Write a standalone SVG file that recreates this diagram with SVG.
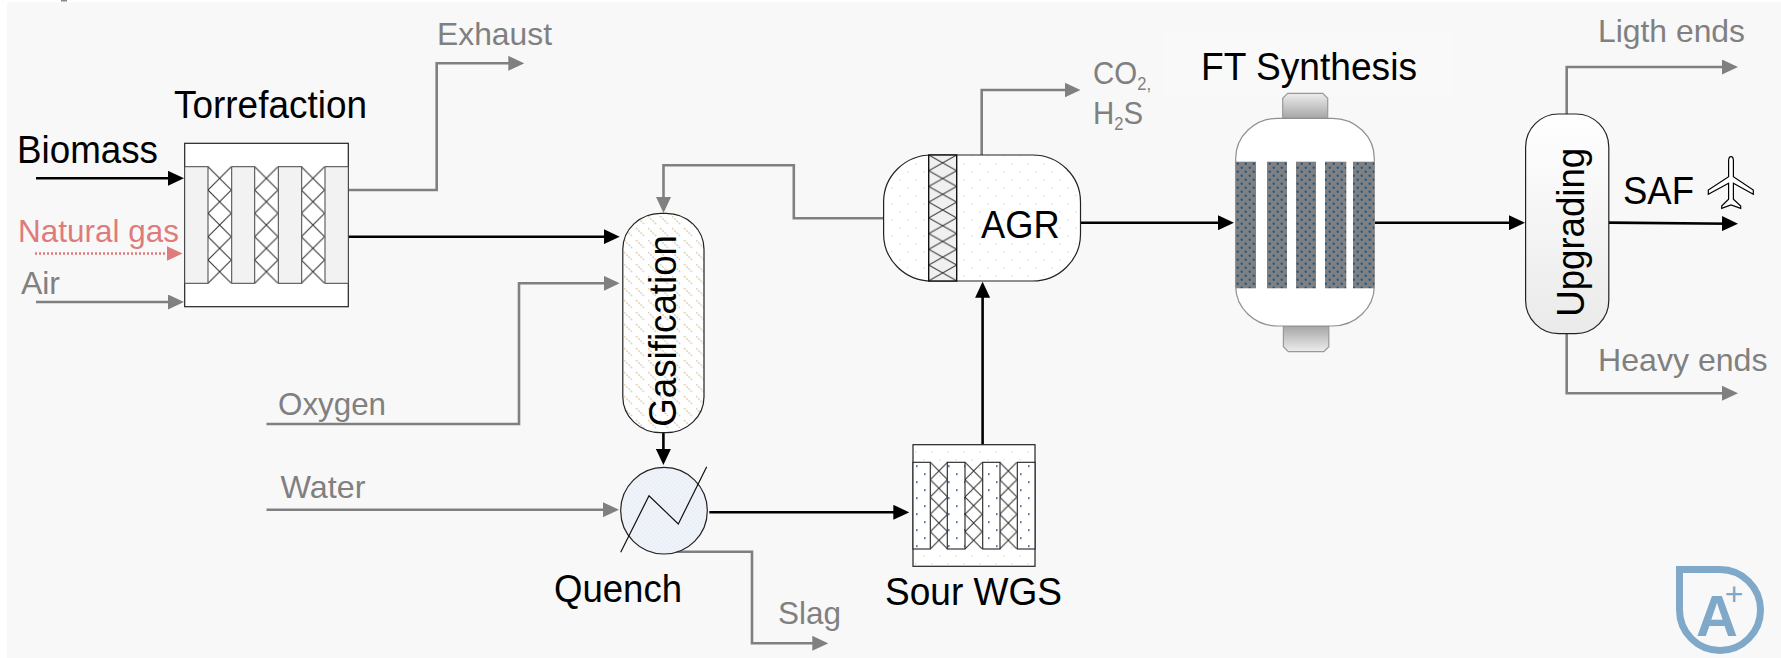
<svg xmlns="http://www.w3.org/2000/svg" width="1781" height="658" viewBox="0 0 1781 658">
<style>
text{font-family:"Liberation Sans",Arial,sans-serif}
.blk{fill:#000;font-size:38px}
.gry{fill:#808080;font-size:32px}
.pnk{fill:#E07B7B;font-size:32px}
.box{stroke:#222;stroke-width:1.2}
.k{fill:none;stroke:#000;stroke-width:2.6}
.g{fill:none;stroke:#808080;stroke-width:2.6}
.mk{marker-end:url(#ak)}
.mg{marker-end:url(#ag)}
.col{fill:#F2F2F2;stroke:#444;stroke-width:1}
.bar{fill:url(#ftdots)}
</style>
<defs>
<marker id="ak" markerUnits="userSpaceOnUse" markerWidth="16" markerHeight="15" refX="9" refY="7.5" orient="auto"><path d="M0 0L16 7.5L0 15z" fill="#000"/></marker>
<marker id="ag" markerUnits="userSpaceOnUse" markerWidth="16" markerHeight="15" refX="9" refY="7.5" orient="auto"><path d="M0 0L16 7.5L0 15z" fill="#808080"/></marker>
<marker id="ap" markerUnits="userSpaceOnUse" markerWidth="16" markerHeight="15" refX="9" refY="7.5" orient="auto"><path d="M0 0L16 7.5L0 15z" fill="#E07B7B"/></marker>
<pattern id="xt" patternUnits="userSpaceOnUse" x="208" y="166.7" width="46.67" height="23.33"><rect width="46.67" height="23.33" fill="#fff"/><path d="M0 0L23.33 23.33M23.33 0L0 23.33" stroke="#222" stroke-width="1"/></pattern>
<pattern id="xw" patternUnits="userSpaceOnUse" x="930.3" y="462.3" width="34.67" height="17.34"><path d="M0 0L17.33 17.34M17.33 0L0 17.34" stroke="#222" stroke-width="1"/></pattern>
<pattern id="xa" patternUnits="userSpaceOnUse" x="928.7" y="155" width="28" height="15.72"><rect width="28" height="15.72" fill="#F0F0F0"/><path d="M0 0L28 15.72M28 0L0 15.72" stroke="#222" stroke-width="1"/></pattern>
<pattern id="hatch" patternUnits="userSpaceOnUse" width="24" height="24"><rect width="24" height="24" fill="#fff"/><path d="M0 0L8 8M12 0L20 8M0 12L8 20M12 12L20 20" stroke="#E0D3B8" stroke-width="1.5" stroke-dasharray="2 1.2"/></pattern>
<pattern id="qdots" patternUnits="userSpaceOnUse" width="4" height="4"><rect width="4" height="4" fill="#EBEFF6"/><circle cx="1" cy="1" r=".7" fill="#F8F9FC"/><circle cx="3" cy="3" r=".7" fill="#F8F9FC"/></pattern>
<pattern id="gdots" patternUnits="userSpaceOnUse" width="16" height="16"><rect width="16" height="16" fill="#fff"/><rect x="3" y="3" width="1.4" height="1.4" fill="#E2E2E2"/><rect x="11" y="11" width="1.4" height="1.4" fill="#E2E2E2"/></pattern>
<pattern id="ndots" patternUnits="userSpaceOnUse" x="913" y="462.3" width="16" height="16"><rect width="16" height="16" fill="#fff"/><rect x="3" y="3" width="1.6" height="1.6" fill="#1F4E8C"/><rect x="11" y="11" width="1.6" height="1.6" fill="#1F4E8C"/></pattern>
<pattern id="ftdots" patternUnits="userSpaceOnUse" x="1235.7" y="161.7" width="8" height="8"><rect width="8" height="8" fill="#808080"/><rect x="1" y="1" width="2" height="2" fill="#0B5394"/><rect x="5" y="5" width="2" height="2" fill="#0B5394"/></pattern>
<linearGradient id="nt" x1="0" y1="0" x2="0" y2="1"><stop offset="0" stop-color="#EDEDED"/><stop offset="1" stop-color="#A6A6A6"/></linearGradient>
<linearGradient id="nb" x1="0" y1="0" x2="0" y2="1"><stop offset="0" stop-color="#A6A6A6"/><stop offset="1" stop-color="#EDEDED"/></linearGradient>
<linearGradient id="up" x1="0" y1="0" x2="0" y2="1"><stop offset="0" stop-color="#fff"/><stop offset="1" stop-color="#EAEAEA"/></linearGradient>
</defs>
<rect x="7" y="2" width="1774" height="656" fill="#F8F8F8"/>
<rect x="61" y="0" width="6" height="1.5" fill="#888"/>
<rect id="ft-label-bg" x="1165.5" y="33" width="285" height="62" fill="#F9F9F9"/>

<g id="connectors">
<path class="k mk" d="M36 178.3H177"/>
<path d="M35 253.5H175.5" fill="none" stroke="#E07B7B" stroke-width="2.4" stroke-dasharray="2 2" marker-end="url(#ap)"/>
<path class="g mg" d="M36 302H177"/>
<path class="g mg" d="M348.3 190H436.7V63.3H517.3"/>
<path class="k mk" d="M348.3 236.7H612.7"/>
<path class="g mg" d="M266.5 424H519V283.3H612.7"/>
<path class="g mg" d="M266.5 509.7H612"/>
<path class="k mk" d="M663.4 432.7V458"/>
<path class="k mk" d="M709.3 512.3H902.3"/>
<path class="g mg" d="M675 551.7H752V643.3H821.3"/>
<path class="k mk" d="M982.6 444.7V288.7"/>
<path class="g mg" d="M883.6 218.3H793.8V165.3H663.5V206"/>
<path class="g mg" d="M981.7 155V90H1073.5"/>
<path class="k mk" d="M1080.5 222.7H1227"/>
<path class="k mk" d="M1374.3 222.7H1518"/>
<path class="g mg" d="M1566.7 114V67H1731"/>
<path class="g mg" d="M1566.7 333.6V393.2H1731"/>
<path class="k mk" d="M1608.8 222.6L1731 223.7"/>
</g>

<g id="torrefaction">
<rect class="box" x="184.7" y="143.3" width="163.6" height="163.4" fill="#fff"/>
<rect x="208" y="166.7" width="117" height="116.6" fill="url(#xt)"/>
<rect class="col" x="184.7" y="166.7" width="23.3" height="116.6"/>
<rect class="col" x="231.7" y="166.7" width="23" height="116.6"/>
<rect class="col" x="278.3" y="166.7" width="23.4" height="116.6"/>
<rect class="col" x="325" y="166.7" width="23.3" height="116.6"/>
<text class="blk" x="174" y="118" textLength="193" lengthAdjust="spacingAndGlyphs">Torrefaction</text>
</g>

<g id="gasification">
<rect class="box" x="622.8" y="213.3" width="81.2" height="219.4" rx="38" ry="36" fill="url(#hatch)"/>
<text class="blk" transform="translate(676.4 426.7) rotate(-90)" textLength="191.7" lengthAdjust="spacingAndGlyphs">Gasification</text>
</g>

<g id="quench">
<circle class="box" cx="664" cy="510.7" r="43.3" fill="url(#qdots)"/>
<path d="M620.7 552.3L649 495.7L678.3 524L706.7 466.7" fill="none" stroke="#111" stroke-width="1.2"/>
<text class="blk" x="554" y="602.3" textLength="128" lengthAdjust="spacingAndGlyphs">Quench</text>
</g>

<g id="sour-wgs">
<rect class="box" x="913" y="444.7" width="122" height="121.6" fill="url(#gdots)"/>
<rect x="930.3" y="462.3" width="87" height="86.7" fill="url(#xw)"/>
<g fill="url(#ndots)" stroke="#222" stroke-width="1.1">
<rect x="913" y="462.3" width="17.3" height="86.7"/>
<rect x="947.3" y="462.3" width="17.7" height="86.7"/>
<rect x="982.7" y="462.3" width="17.3" height="86.7"/>
<rect x="1017.3" y="462.3" width="17.7" height="86.7"/>
</g>
<text class="blk" x="885" y="605" textLength="177" lengthAdjust="spacingAndGlyphs">Sour WGS</text>
</g>

<g id="agr">
<rect class="box" x="883.6" y="155" width="196.9" height="126" rx="48" ry="47" fill="url(#gdots)"/>
<rect x="928.7" y="155" width="28" height="126" fill="url(#xa)" stroke="#111" stroke-width="1.4"/>
<text class="blk" x="981" y="238.3" textLength="78.6" lengthAdjust="spacingAndGlyphs">AGR</text>
</g>

<g id="ft-synthesis">
<path d="M1287.7 93.3H1322.7L1327.7 98.3V118.3H1282.7V98.3z" fill="url(#nt)" stroke="#999" stroke-width="1.2"/>
<path d="M1283.4 326H1328.8V346.7L1323.8 351.7H1288.4L1283.4 346.7z" fill="url(#nb)" stroke="#999" stroke-width="1.2"/>
<rect x="1235.7" y="118.3" width="138.6" height="207.7" rx="42" ry="40" fill="#fff" stroke="#909090" stroke-width="1.2"/>
<rect class="bar" x="1235.7" y="161.7" width="20.3" height="126.6"/>
<rect class="bar" x="1267" y="161.7" width="20" height="126.6"/>
<rect class="bar" x="1296" y="161.7" width="20" height="126.6"/>
<rect class="bar" x="1325" y="161.7" width="21.3" height="126.6"/>
<rect class="bar" x="1353" y="161.7" width="21.3" height="126.6"/>
<text class="blk" x="1201" y="80" textLength="216" lengthAdjust="spacingAndGlyphs">FT Synthesis</text>
</g>

<g id="upgrading">
<rect class="box" x="1525.6" y="114" width="83.2" height="219.6" rx="33" ry="33" fill="url(#up)"/>
<text class="blk" transform="translate(1584 316.8) rotate(-90)" textLength="169" lengthAdjust="spacingAndGlyphs">Upgrading</text>
</g>

<g id="labels">
<text class="blk" x="17" y="162.7" textLength="141" lengthAdjust="spacingAndGlyphs">Biomass</text>
<text class="pnk" x="18" y="241.7" textLength="161" lengthAdjust="spacingAndGlyphs">Natural gas</text>
<text class="gry" x="21" y="294.3" textLength="39" lengthAdjust="spacingAndGlyphs">Air</text>
<text class="gry" x="437" y="44.5" textLength="115" lengthAdjust="spacingAndGlyphs">Exhaust</text>
<text class="gry" x="278" y="415" textLength="108" lengthAdjust="spacingAndGlyphs">Oxygen</text>
<text class="gry" x="280.5" y="498.3" textLength="85" lengthAdjust="spacingAndGlyphs">Water</text>
<text class="gry" x="778" y="624" textLength="63" lengthAdjust="spacingAndGlyphs">Slag</text>
<text class="gry" x="1093" y="84" textLength="58" lengthAdjust="spacingAndGlyphs">CO<tspan font-size="18" dy="6">2,</tspan></text>
<text class="gry" x="1093" y="124" textLength="50" lengthAdjust="spacingAndGlyphs">H<tspan font-size="18" dy="6">2</tspan><tspan dy="-6">S</tspan></text>
<text class="gry" x="1598" y="42" textLength="147" lengthAdjust="spacingAndGlyphs">Ligth ends</text>
<text class="gry" x="1598" y="370.5" textLength="169.5" lengthAdjust="spacingAndGlyphs">Heavy ends</text>
<text class="blk" x="1623" y="203.5" textLength="71" lengthAdjust="spacingAndGlyphs">SAF</text>
</g>

<g id="plane">
<path d="M1731 156.7C1733 156.7 1733.4 159 1733.4 161V176.7L1753.3 190V194.3L1733.4 183.3V199.3L1740.7 206V208.3L1731 205L1721.7 208.3V206L1728.6 199.3V183.3L1708.3 194.3V190L1728.6 176.7V161C1728.6 159 1729 156.7 1731 156.7z" fill="#fff" stroke="#000" stroke-width="1.2"/>
</g>

<g id="logo">
<path d="M1679.5 569.5H1720A40.5 40.5 0 1 1 1679.5 610z" fill="none" stroke="#7FA8C9" stroke-width="7"/>
<text x="1717" y="636" text-anchor="middle" font-size="58" font-weight="bold" fill="#7FA8C9">A</text>
<text x="1734" y="605" text-anchor="middle" font-size="32" fill="#7FA8C9">+</text>
</g>
</svg>
